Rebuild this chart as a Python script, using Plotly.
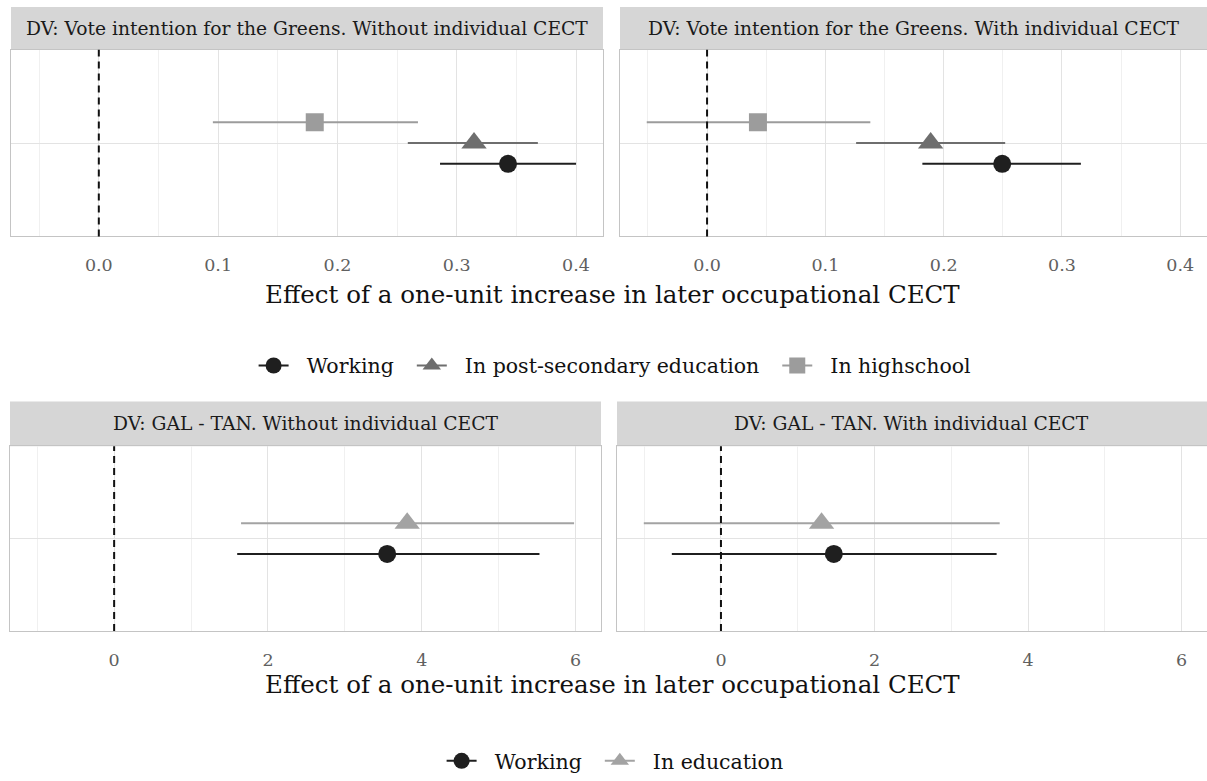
import plotly.graph_objects as go

# ---------------- data ----------------
groups_top = ["Working", "In post-secondary education", "In highschool"]
top_without_est = [0.343, 0.3145, 0.181]
top_without_lo = [0.286, 0.259, 0.0956]
top_without_hi = [0.400, 0.368, 0.2675]
top_with_est = [0.2495, 0.189, 0.043]
top_with_lo = [0.182, 0.126, -0.051]
top_with_hi = [0.316, 0.252, 0.138]

groups_bot = ["Working", "In education"]
bot_without_est = [3.55, 3.81]
bot_without_lo = [1.60, 1.65]
bot_without_hi = [5.53, 5.98]
bot_with_est = [1.47, 1.31]
bot_with_lo = [-0.64, -1.005]
bot_with_hi = [3.59, 3.63]

strip_titles = [
    "DV: Vote intention for the Greens. Without individual CECT",
    "DV: Vote intention for the Greens. With individual CECT",
    "DV: GAL - TAN. Without individual CECT",
    "DV: GAL - TAN. With individual CECT",
]
xaxis_title = "Effect of a one-unit increase in later occupational CECT"
top_ticks = [0.0, 0.1, 0.2, 0.3, 0.4]
top_ticktext = ["0.0", "0.1", "0.2", "0.3", "0.4"]
bot_ticks = [0, 2, 4, 6]
bot_ticktext = ["0", "2", "4", "6"]

# ---------------- style ----------------
W, H = 1207, 781
FONT = "DejaVu Serif"
top_colors = ["#1f1f1f", "#6e6e6e", "#9c9c9c"]
top_symbols = ["circle", "triangle-up", "square"]
bot_colors = ["#1f1f1f", "#a3a3a3"]
bot_symbols = ["circle", "triangle-up"]
marker_sizes = {"circle": 18, "triangle-up": 22, "square": 18}
NB = "\u00a0"

def px_x(p):
    return p / W

def px_y(p):
    return 1 - p / H

fig = go.Figure()

# panel geometry (pixels)
panels = [
    dict(x0=11, x1=603, y0=50, y1=238, s0=7),
    dict(x0=620, x1=1207, y0=50, y1=238, s0=7),
    dict(x0=10, x1=601, y0=449, y1=635, s0=404),
    dict(x0=617, x1=1207, y0=449, y1=635, s0=404),
]
top_range = [-0.0736, 0.4226]
bot_range = [-1.354, 6.33]

def dodge(n, width=0.4):
    step = width / n
    return [-width / 2 + step * (i + 0.5) for i in range(n)]

datasets = [
    (groups_top, top_without_est, top_without_lo, top_without_hi, top_colors, top_symbols),
    (groups_top, top_with_est, top_with_lo, top_with_hi, top_colors, top_symbols),
    (groups_bot, bot_without_est, bot_without_lo, bot_without_hi, bot_colors, bot_symbols),
    (groups_bot, bot_with_est, bot_with_lo, bot_with_hi, bot_colors, bot_symbols),
]

layout_axes = {}
shapes = []
annotations = []
for i, (p, ds) in enumerate(zip(panels, datasets)):
    k = i + 1
    xa = "x" if k == 1 else f"x{k}"
    ya = "y" if k == 1 else f"y{k}"
    groups, est, lo, hi, colors, symbols = ds
    offs = dodge(len(groups))
    for j, g in enumerate(groups):
        fig.add_trace(go.Scatter(
            x=[est[j]], y=[1 + offs[j]], mode="markers",
            marker=dict(symbol=symbols[j], size=marker_sizes[symbols[j]], color=colors[j]),
            error_x=dict(type="data", symmetric=False, array=[hi[j] - est[j]],
                         arrayminus=[est[j] - lo[j]], width=0, thickness=2, color=colors[j]),
            xaxis=xa, yaxis=ya, showlegend=False, hoverinfo="skip"))
    is_top = i < 2
    rng = top_range if is_top else bot_range
    layout_axes["xaxis" if k == 1 else f"xaxis{k}"] = dict(
        domain=[px_x(p["x0"]), min(1.0, px_x(p["x1"]))], range=rng, anchor=ya,
        tickvals=top_ticks if is_top else bot_ticks,
        ticktext=top_ticktext if is_top else bot_ticktext,
        showgrid=True, gridcolor="#e3e3e3", gridwidth=1,
        minor=dict(showgrid=True, gridcolor="#f0f0f0", gridwidth=1,
                   dtick=0.05 if is_top else 1, tick0=0),
        zeroline=False, showline=True, linecolor="#c4c4c4", linewidth=1, mirror=True,
        ticks="", ticklabelstandoff=13,
        tickfont=dict(family=FONT, size=17.5, color="#606060"))
    layout_axes["yaxis" if k == 1 else f"yaxis{k}"] = dict(
        domain=[px_y(p["y1"]), px_y(p["y0"])], range=[0.4, 1.6], anchor=xa,
        tickvals=[1], showticklabels=False, showgrid=True, gridcolor="#e3e3e3",
        zeroline=False, showline=True, linecolor="#c4c4c4", linewidth=1, mirror=True)
    # dashed zero line
    shapes.append(dict(type="line", xref=xa, yref=f"{ya} domain", x0=0, x1=0, y0=0, y1=1,
                       line=dict(color="#111111", width=2, dash="7px,5px")))
    # strip
    shapes.append(dict(type="rect", xref="paper", yref="paper",
                       x0=px_x(p["x0"]), x1=min(1.0, px_x(p["x1"])),
                       y0=px_y(p["y0"]), y1=px_y(p["s0"]),
                       fillcolor="#d6d6d6", line=dict(width=0), layer="below"))
    annotations.append(dict(x=(px_x(p["x0"]) + min(1.0, px_x(p["x1"]))) / 2,
                            y=(px_y(p["y0"]) + px_y(p["s0"])) / 2,
                            xref="paper", yref="paper", text=strip_titles[i], showarrow=False,
                            font=dict(family=FONT, size=18.7, color="#1a1a1a"),
                            xanchor="center", yanchor="middle"))

# axis titles
for yc in (296, 689):
    annotations.append(dict(x=px_x(612), y=px_y(yc), xref="paper", yref="paper",
                            text=xaxis_title, showarrow=False,
                            font=dict(family=FONT, size=24.5, color="#111111"),
                            xanchor="center", yanchor="middle"))

# legend-only traces
for j, g in enumerate(groups_top):
    fig.add_trace(go.Scatter(x=[None], y=[None], mode="lines+markers", name=NB * 2 + g + NB * 2,
                             marker=dict(symbol=top_symbols[j], size=marker_sizes[top_symbols[j]],
                                         color=top_colors[j]),
                             line=dict(color=top_colors[j], width=2), legend="legend"))
for j, g in enumerate(groups_bot):
    fig.add_trace(go.Scatter(x=[None], y=[None], mode="lines+markers", name=NB * 2 + g + NB * 2,
                             marker=dict(symbol=bot_symbols[j], size=marker_sizes[bot_symbols[j]],
                                         color=bot_colors[j]),
                             line=dict(color=bot_colors[j], width=2), legend="legend2"))

fig.update_layout(
    width=W, height=H, margin=dict(l=0, r=0, t=0, b=0),
    paper_bgcolor="white", plot_bgcolor="white",
    font=dict(family=FONT, color="#111111"),
    shapes=shapes, annotations=annotations,
    legend=dict(orientation="h", x=0.515, y=px_y(368), xanchor="center", yanchor="middle",
                font=dict(family=FONT, size=20.5, color="#111111"),
                bgcolor="rgba(0,0,0,0)"),
    legend2=dict(orientation="h", x=0.515, y=px_y(766), xanchor="center", yanchor="middle",
                 font=dict(family=FONT, size=20.5, color="#111111"),
                 bgcolor="rgba(0,0,0,0)"),
    **layout_axes,
)

fig.write_html("out.html")
